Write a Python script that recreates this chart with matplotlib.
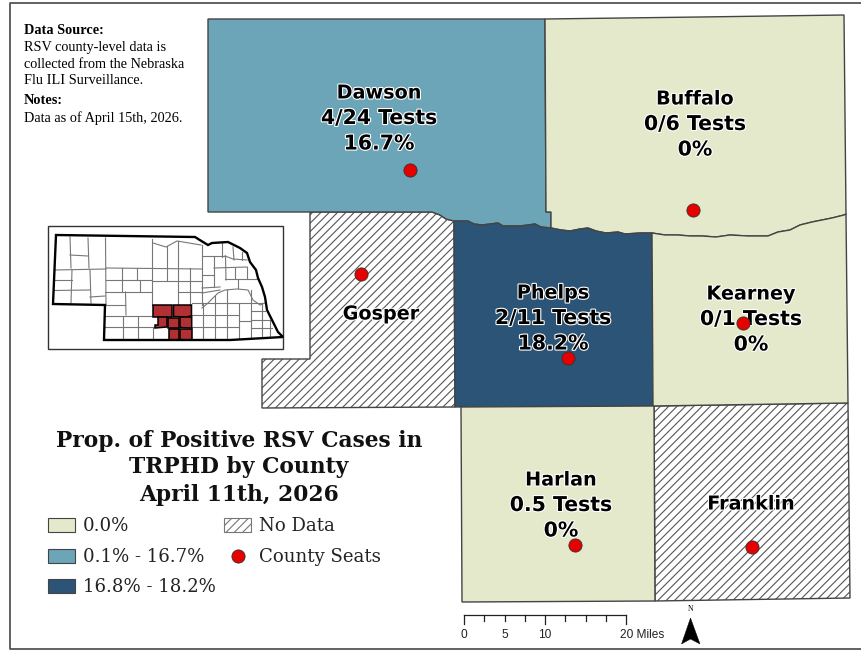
import matplotlib
matplotlib.use('Agg')
import matplotlib.pyplot as plt
import matplotlib.patheffects as pe
from matplotlib.patches import Polygon, Rectangle

# County data
counties = ['Dawson', 'Buffalo', 'Gosper', 'Phelps', 'Kearney', 'Harlan', 'Franklin']
positive_rate = [16.7, 0.0, None, 18.2, 0.0, 0.0, None]
label_lines = [
    ['Dawson', '4/24 Tests', '16.7%'],
    ['Buffalo', '0/6 Tests', '0%'],
    ['Gosper'],
    ['Phelps', '2/11 Tests', '18.2%'],
    ['Kearney', '0/1 Tests', '0%'],
    ['Harlan', '0.5 Tests', '0%'],
    ['Franklin'],
]
label_x = [379, 695, 381, 553, 751, 561, 751]
label_y = [93, 99, 314, 293, 294, 480, 504]

# Seats, in image pixels
seat_x = [410, 693, 361, 568, 743, 575, 752]
seat_y = [170, 210, 274, 358, 323, 545, 547]

# The wiggly Platte river line, shared by several counties
river_west = [(310, 212), (432, 212), (440, 215), (446, 219), (454, 221)]
river_mid = [(454, 221), (468, 221), (474, 224), (482, 225), (490, 224), (498, 223),
             (503, 226), (512, 226), (520, 226), (528, 225), (535, 224), (541, 227), (551, 228)]
river_east = [(551, 228), (561, 230), (570, 231), (580, 229), (588, 228), (596, 231),
              (606, 233), (618, 232), (625, 234), (640, 233), (652, 233)]
river_far = [(652, 233), (665, 235), (678, 235), (690, 236), (702, 236), (716, 237),
             (730, 235), (748, 236), (768, 236), (778, 232), (790, 230), (800, 225),
             (812, 222), (822, 220), (832, 218), (844, 215), (846, 214)]

outlines = {
    'Dawson': [(208, 19), (545, 19), (546, 212), (551, 212)] + river_mid[::-1] + river_west[::-1] + [(208, 212)],
    'Buffalo': [(545, 19), (700, 17), (844, 15), (846, 214)] + river_far[::-1] + river_east[::-1] + [(551, 212), (546, 212)],
    'Gosper': river_west + [(455, 407), (262, 408), (262, 359), (310, 359)],
    'Phelps': river_mid + river_east + [(653, 406), (455, 407)],
    'Kearney': river_far + [(848, 403), (653, 406)],
    'Harlan': [(461, 407), (654, 406), (655, 601), (462, 602)],
    'Franklin': [(654, 406), (848, 403), (850, 598), (655, 601)],
}

# Legend
legend_labels = ['0.0%', '0.1% - 16.7%', '16.8% - 18.2%']
legend_title = ['Prop. of Positive RSV Cases in', 'TRPHD by County', 'April 11th, 2026']
pale, teal, navy = '#e4e9cb', '#6ba5b7', '#2c5477'
edge = '#444444'

# Inset map of the state
state_outline = [(56, 235), (195, 237), (203, 242), (208, 245), (212, 243), (228, 242),
                 (240, 248), (247, 253), (250, 262), (256, 270), (258, 278), (262, 287),
                 (265, 297), (267, 310), (272, 320), (278, 332), (283, 337),
                 (230, 340), (170, 340), (104, 340), (105, 305), (53, 304)]
state_lines = [
    # panhandle
    [(70, 237), (71, 268)], [(88, 238), (89, 268)], [(105.5, 238), (106, 305)],
    [(70, 255), (88, 256)], [(55, 270), (106, 269)], [(54, 280), (72, 280)],
    [(54, 290.5), (90, 290)], [(72, 270), (71, 303)], [(90, 270), (91, 303)],
    [(90, 297), (105, 296)],
    # central
    [(106, 268), (202, 269)], [(122, 268), (122, 292)], [(137, 268), (137, 280)],
    [(140, 280), (140, 292)], [(152, 239), (152, 305)], [(106, 280), (152, 280)],
    [(105, 292), (152, 292)], [(125.5, 292), (126, 315)], [(106, 305), (125, 305)],
    [(105, 315.5), (152, 315.5)], [(123, 316), (123, 340)], [(138, 316), (138, 340)],
    [(153, 327), (153, 340)], [(105, 327), (155, 327)],
    [(167, 246), (167, 281)], [(178, 241), (178, 305)], [(190, 268), (190, 305)],
    [(152, 281), (202, 281)], [(178, 292), (202, 292)],
    [(153, 243), (166, 247), (177, 241), (201, 245)],
    # east
    [(202, 245), (202, 305)], [(202, 256), (225, 256)], [(222, 242), (222, 257)],
    [(233, 247), (234, 260)], [(242, 252), (242, 260)], [(225, 256), (233, 259), (247, 260)],
    [(214, 257), (214, 287)], [(225.5, 256), (226, 280)], [(202, 275), (214, 275)],
    [(214, 268), (247, 267)], [(235, 268), (235, 278)], [(247, 267), (247, 278)],
    [(225, 279), (258, 279)], [(238, 280), (238, 288)], [(202, 288), (220, 287)],
    [(202, 308), (208, 303), (218, 293), (225, 290), (237, 289), (248, 290), (253, 300), (260, 305), (265, 303)],
    [(202, 293), (220, 290)],
    # south east
    [(192, 315), (239, 315)], [(192, 303), (262, 303)], [(203, 303), (203, 340)],
    [(215, 296), (215, 340)], [(227, 290), (227, 340)], [(239, 303), (239, 338)],
    [(251, 290), (251, 337)], [(262, 303), (262, 336)], [(270, 320), (270, 336)],
    [(192, 327), (239, 327)], [(239, 321), (251, 321)], [(251, 311), (265, 311)],
    [(251, 320), (270, 320)], [(251, 328), (272, 328)],
]
state_red = [
    [(152.5, 305), (172, 305), (172, 316.5), (152.5, 316.5)],
    [(173.5, 305), (191.5, 305), (191.5, 316), (185, 317), (173.5, 316.5)],
    [(158, 317), (167, 317), (167, 327), (155, 328), (155, 325), (158, 325)],
    [(167.7, 317.7), (179, 317.7), (179, 327.5), (167.7, 327.5)],
    [(180, 317), (191.7, 317), (191.7, 328), (180, 327.5)],
    [(168.5, 328.5), (179, 328.5), (179, 339.5), (168.5, 339.5)],
    [(180, 328.5), (191.7, 328.5), (191.7, 339.5), (180, 339.5)],
]

# Scale bar
scale_ticks = [464, 484.3, 504.6, 525, 545, 565.3, 585.6, 606, 626]
scale_labels = ['0', '5', '10']

plt.rcParams['hatch.linewidth'] = 0.8


def class_colour(rate):
    if rate is None:
        return None
    if rate == 0:
        return pale
    return teal if rate <= 16.7 else navy


fig = plt.figure(figsize=(8.61, 6.5), dpi=100)
ax = fig.add_axes([0, 0, 1, 1])
ax.set_xlim(0, 861)
ax.set_ylim(650, 0)
ax.axis('off')

# Page frame
ax.plot([861, 9.5, 9.5, 861], [2.5, 2.5, 648.5, 648.5], color='#555555', lw=1.3, zorder=1)

# Hatched counties first so that filled ones sit on top of their borders
order = [2, 6, 0, 1, 3, 4, 5]
for i in order:
    name = counties[i]
    colour = class_colour(positive_rate[i])
    if colour is None:
        ax.add_patch(Polygon(outlines[name], facecolor='white', edgecolor='#555555',
                             hatch='////', lw=0, zorder=2))
        ax.add_patch(Polygon(outlines[name], fill=False, edgecolor=edge, lw=1.0, zorder=3))
    else:
        ax.add_patch(Polygon(outlines[name], facecolor=colour, edgecolor=edge, lw=1.0, zorder=3))

# Seats
ax.plot(seat_x, seat_y, 'o', color='#e60000', mec='#333333', mew=0.6, ms=9.5, zorder=6)

# County labels with a white halo, the county name a bit narrower than the counts
for lines, x, y in zip(label_lines, label_x, label_y):
    for j, line in enumerate(lines):
        ax.text(x, y + j * 25.5, line, ha='center', va='center', fontsize=13.8 if j == 0 else 14.7,
                fontweight='bold', family='DejaVu Sans', color='black', zorder=5,
                path_effects=[pe.withStroke(linewidth=1.6, foreground='white')])

# Notes
note_font = 'Liberation Serif'
ax.text(24, 30, 'Data Source:', fontsize=10.3, fontweight='bold', family=note_font, va='center')
ax.text(24, 48, 'RSV county-level data is', fontsize=10.3, family=note_font, va='center')
ax.text(24, 64, 'collected from the Nebraska', fontsize=10.3, family=note_font, va='center')
ax.text(24, 81, 'Flu ILI Surveillance.', fontsize=10.3, family=note_font, va='center')
ax.text(24, 100, 'Notes:', fontsize=10.3, fontweight='bold', family=note_font, va='center')
ax.text(24, 118, 'Data as of April 15th, 2026.', fontsize=10.3, family=note_font, va='center')

# Inset
ax.add_patch(Rectangle((47.5, 226), 235.5, 123, facecolor='white', edgecolor='#333333', lw=1.0, zorder=2))
for seg in state_lines:
    ax.plot(*zip(*seg), color='#777777', lw=0.8, zorder=3)
for poly in state_red:
    ax.add_patch(Polygon(poly, facecolor='#b22f33', edgecolor='black', lw=1.1, zorder=4))
ax.add_patch(Polygon(state_outline, fill=False, edgecolor='black', lw=1.7, zorder=5))

# Legend block
for j, line in enumerate(legend_title):
    ax.text(239, 440.5 + j * 27, line, ha='center', va='center', fontsize=15.7,
            fontweight='bold', family='DejaVu Serif', color='#111111')
for j, (lab, col) in enumerate(zip(legend_labels, [pale, teal, navy])):
    ax.add_patch(Rectangle((48, 518 + j * 30.5), 27, 14, facecolor=col, edgecolor=edge, lw=0.8))
    ax.text(83, 526 + j * 30.5, lab, va='center', fontsize=13.1, family='DejaVu Serif', color='#222222')
ax.add_patch(Rectangle((224, 518), 27, 14, facecolor='white', edgecolor='#777777', hatch='////', lw=0.8))
ax.text(259, 526, 'No Data', va='center', fontsize=13.1, family='DejaVu Serif', color='#222222')
ax.plot([238], [556], 'o', color='#e60000', mec='#333333', mew=0.6, ms=9.5)
ax.text(259, 556.5, 'County Seats', va='center', fontsize=13.1, family='DejaVu Serif', color='#222222')

# Scale bar
ax.plot([scale_ticks[0], scale_ticks[-1]], [615, 615], color='#222222', lw=0.9)
for j, x in enumerate(scale_ticks):
    ax.plot([x, x], [615, 623.5 if j % 4 == 0 else 621], color='#222222', lw=0.9)
for x, lab in zip(scale_ticks[::2], scale_labels):
    ax.text(x, 634.5, lab, ha='center', va='center', fontsize=8.6, family='Liberation Sans', color='#222222')
ax.text(620, 634.5, '20 Miles', ha='left', va='center', fontsize=8.6, family='Liberation Sans', color='#222222')

# North arrow
ax.add_patch(Polygon([(690.5, 618), (700, 644), (690.5, 639), (681.5, 644)], facecolor='black', edgecolor='black', lw=0.3))
ax.text(690.5, 609, 'N', ha='center', va='center', fontsize=5.5, family='Liberation Serif')

fig.savefig('out.png', dpi=100)
